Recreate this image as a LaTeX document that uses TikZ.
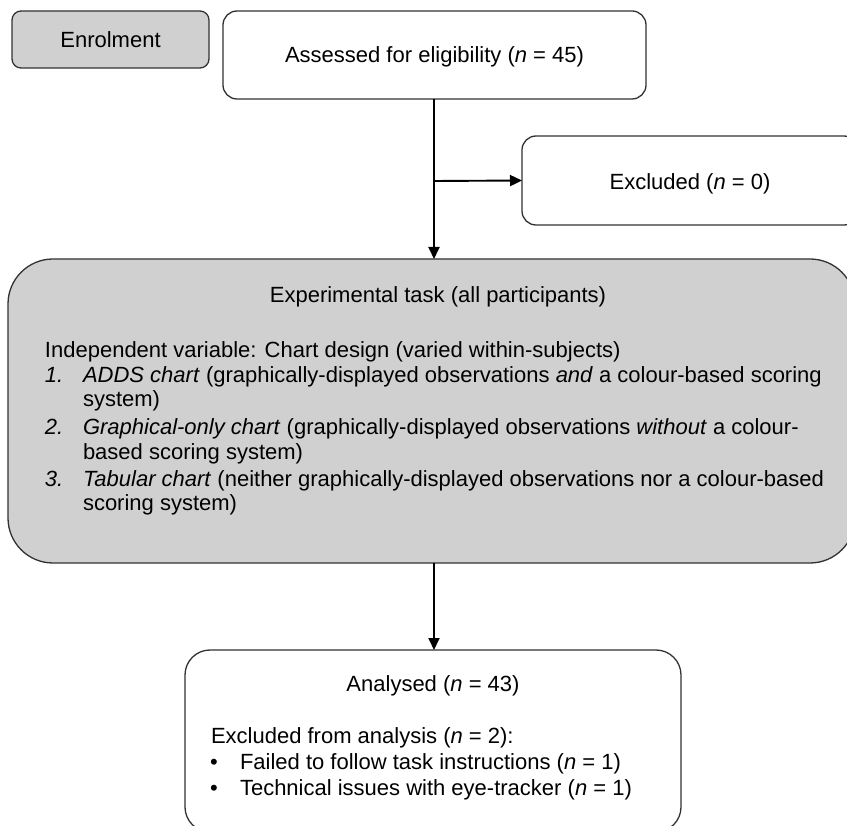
\documentclass[tikz,border=0pt]{standalone}
\usepackage{fontspec}
\setmainfont{Liberation Sans}
\usetikzlibrary{arrows.meta}
\definecolor{boxgray}{RGB}{208,208,208}
\definecolor{edgegray}{RGB}{50,50,50}
\begin{document}
\begin{tikzpicture}[x=1pt,y=-1pt,
  box/.style={draw=edgegray,line width=1.3pt,inner sep=0pt,outer sep=0pt},
  txt/.style={inner sep=0pt,outer sep=0pt,font=\fontsize{22}{25}\selectfont},
  conn/.style={line width=1.9pt,-{Triangle[length=12pt,width=11pt]}}]
\useasboundingbox (0,0) rectangle (847,826);
\fill[white] (0,0) rectangle (847,826);
\clip (0,0) rectangle (847,826);
% boxes
\node[box,fill=boxgray,rounded corners=9pt,minimum width=197pt,minimum height=57pt] (enrol) at (110.5,39.5) {};
\node[box,fill=white,rounded corners=14pt,minimum width=423pt,minimum height=88pt] (assess) at (434.5,55) {};
\node[box,fill=white,rounded corners=14pt,minimum width=336pt,minimum height=89pt] (excl) at (690,180.5) {};
\node[box,fill=boxgray,rounded corners=45pt,minimum width=847pt,minimum height=304pt] (task) at (431.5,411) {};
\node[box,fill=white,rounded corners=25pt,minimum width=496pt,minimum height=182pt] (anal) at (433,741) {};
% texts
\node[txt,anchor=base] (tenrol) at (110.5,48) {Enrolment};
\node[txt,anchor=base] (tassess) at (434.5,63) {Assessed for eligibility (\textit{n} = 45)};
\node[txt,anchor=base] (texcl) at (690,190) {Excluded (\textit{n} = 0)};
\node[txt,anchor=base] (ttask) at (438,303) {Experimental task (all participants)};
\node[txt,anchor=base west] (iv) at (45,358) {Independent variable: Chart design (varied within-subjects)};
\node[txt,anchor=base west] (n1) at (45,383) {\textit{1.}};
\node[txt,anchor=base west] (l1a) at (83,383) {\textit{ADDS chart} (graphically-displayed observations \textit{and} a colour-based scoring};
\node[txt,anchor=base west] (l1b) at (83,407) {system)};
\node[txt,anchor=base west] (n2) at (45,435) {\textit{2.}};
\node[txt,anchor=base west] (l2a) at (83,435) {\textit{Graphical-only chart} (graphically-displayed observations \textit{without} a colour-};
\node[txt,anchor=base west] (l2b) at (83,460) {based scoring system)};
\node[txt,anchor=base west] (n3) at (45,487) {\textit{3.}};
\node[txt,anchor=base west] (l3a) at (83,487) {\textit{Tabular chart} (neither graphically-displayed observations nor a colour-based};
\node[txt,anchor=base west] (l3b) at (83,511) {scoring system)};
\node[txt,anchor=base] (tanal) at (433,691) {Analysed (\textit{n} = 43)};
\node[txt,anchor=base west] (texa) at (211,743) {Excluded from analysis (\textit{n} = 2):};
\node[txt,anchor=base] (b1) at (214,769) {•};
\node[txt,anchor=base west] (e1) at (240,769) {Failed to follow task instructions (\textit{n} = 1)};
\node[txt,anchor=base] (b2) at (214,795) {•};
\node[txt,anchor=base west] (e2) at (240,795) {Technical issues with eye-tracker (\textit{n} = 1)};
% connectors
\coordinate (br) at (434,181);
\draw[conn] (assess.south -| br) -- (br |- task.north);
\draw[conn] (br) -- (excl.west);
\draw[conn] (task.south -| br) -- (br |- anal.north);
\end{tikzpicture}
\end{document}
